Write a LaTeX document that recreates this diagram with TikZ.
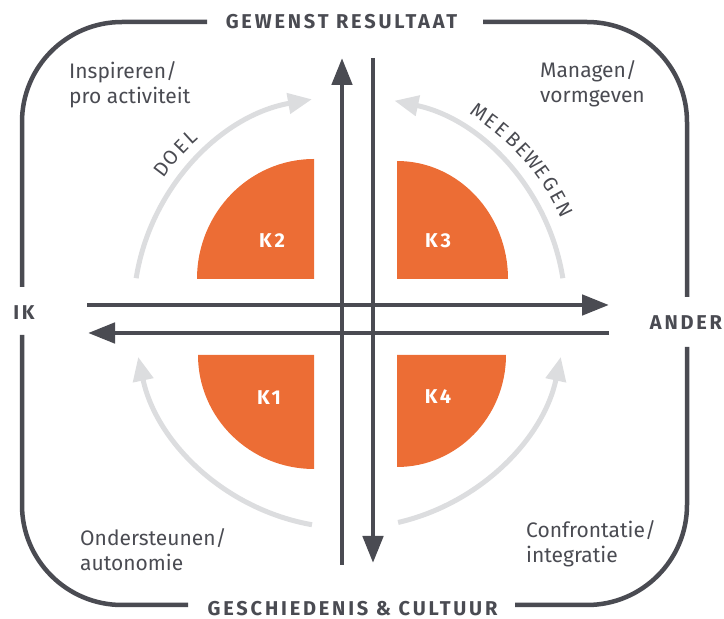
\documentclass[tikz,border=0pt]{standalone}
\usepackage{fontspec}
\setmainfont{Fira Sans}
\newfontfamily\trackedfont[LetterSpace=14]{Fira Sans}
\usetikzlibrary{arrows.meta,calc}
\definecolor{ink}{HTML}{4A4B52}
\definecolor{accent}{HTML}{EC6D35}
\definecolor{track}{HTML}{DCDDDF}

\begin{document}
\begin{tikzpicture}[x=1pt,y=1pt,
  frame/.style={draw=ink,line width=4.5pt,rounded corners=100pt},
  axis/.style={draw=ink,line width=4.8pt,-{Triangle[length=27pt,width=20pt]}},
  cycle arrow/.style={draw=track,line width=5pt,-{Triangle[length=24pt,width=20pt]}},
  quarter/.style={fill=accent},
  klabel/.style={text=white,inner sep=0,font=\trackedfont\bfseries\fontsize{20}{20}\selectfont},
  heading/.style={text=ink,inner sep=0,font=\trackedfont\bfseries\fontsize{20}{20}\selectfont},
  note/.style={text=ink,inner sep=0,align=left,anchor=west,font=\fontsize{21}{25}\selectfont},
  arcletter/.style={text=ink,inner sep=0,font=\fontsize{20}{20}\selectfont}]
\useasboundingbox (0,0) rectangle (724,619);

% outer frame, interrupted by the four labels
\draw[frame] (207,597) -- (22,597) -- (22,332);
\draw[frame] (483,597) -- (687,597) -- (687,322);
\draw[frame] (22,284) -- (22,14) -- (188,14);
\draw[frame] (687,272) -- (687,14) -- (515,14);

% quadrant sectors
\fill[quarter] (314,340) -- (314,460) arc[start angle=90,end angle=180,x radius=117,y radius=120] -- cycle;
\fill[quarter] (397,340) -- (508,340) arc[start angle=0,end angle=90,x radius=111,y radius=118] -- cycle;
\fill[quarter] (314,264) -- (198,264) arc[start angle=180,end angle=270,x radius=116,y radius=114] -- cycle;
\fill[quarter] (397,264) -- (397,152) arc[start angle=270,end angle=360,x radius=109,y radius=112] -- cycle;
\node[klabel] (k2) at (272,378) {K2};
\node[klabel] (k3) at (438,378) {K3};
\node[klabel] (k1) at (269,221) {K1};
\node[klabel] (k4) at (438,222) {K4};

% circular movement arrows
\coordinate (C) at (349.5,307);
\coordinate (ul) at ($(C)+(171:216)$);
\coordinate (ur) at ($(C)+(9:216)$);
\coordinate (ll) at ($(C)+(260:216)$);
\coordinate (lr) at ($(C)+(283:216)$);
\draw[cycle arrow] (ul) arc[start angle=171,end angle=100,radius=216];
\draw[cycle arrow] (ur) arc[start angle=9,end angle=78,radius=216];
\draw[cycle arrow] (ll) arc[start angle=260,end angle=192,radius=216];
\draw[cycle arrow] (lr) arc[start angle=283,end angle=348,radius=216];

% lettering along the upper arcs
\foreach \ch/\a [count=\i] in {D/142.7,O/139.3,E/135.6,L/132.3}
  \node[arcletter,rotate=\a-90] (doel-\i) at ($(C)+(\a:236)$) {\ch};
\foreach \ch [count=\i] in {M,E,E,B,E,W,E,G,E,N}
  \node[arcletter,rotate={57-3.5*(\i-1)-90}] (mee-\i) at ($(C)+({57-3.5*(\i-1)}:238)$) {\ch};

% axes
\coordinate (up-s) at (342,54);  \coordinate (up-e) at (342,561);
\coordinate (dn-s) at (373,561); \coordinate (dn-e) at (373,56);
\coordinate (rt-s) at (87,314);  \coordinate (rt-e) at (609,314);
\coordinate (lf-s) at (609,286); \coordinate (lf-e) at (88,286);
\draw[axis] (up-s) -- (up-e);
\draw[axis] (dn-s) -- (dn-e);
\draw[axis] (rt-s) -- (rt-e);
\draw[axis] (lf-s) -- (lf-e);

% frame labels
\node[heading] (top) at (341.5,597) {GEWENST RESULTAAT};
\node[heading] (bottom) at (352.5,10.5) {GESCHIEDENIS \& CULTUUR};
\node[heading] (ik) at (24,306) {IK};
\node[heading] (ander) at (686,296) {ANDER};

% quadrant descriptions
\node[note] (n2) at (69,534.5) {Inspireren/\\pro activiteit};
\node[note] (n3) at (540,535.5) {Managen/\\vormgeven};
\node[note] (n1) at (80,69.5) {Ondersteunen/\\autonomie};
\node[note] (n4) at (526,75.5) {Confrontatie/\\integratie};
\end{tikzpicture}
\end{document}
